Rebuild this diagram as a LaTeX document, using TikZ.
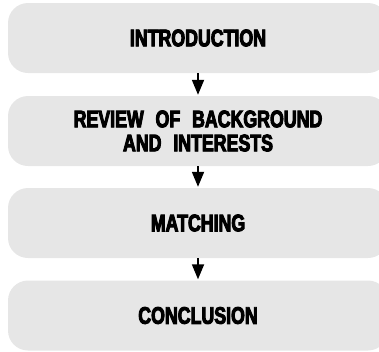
\documentclass[tikz,border=0pt]{standalone}
\usepackage{fontspec}
\usetikzlibrary{arrows.meta}
\newfontfamily\boxfont[FakeStretch=0.74,FakeBold=4,WordSpace=2.4]{Liberation Sans Bold}
\tikzset{
  stage/.style={fill=stagegray, draw=none, rounded corners=20pt,
    minimum width=380pt, minimum height=70pt, inner sep=0pt,
    align=center, font=\boxfont\fontsize{24pt}{24pt}\selectfont},
  flow/.style={line width=1.8pt, -{Triangle[width=12pt,length=15pt]},
    shorten >=1pt}
}
\definecolor{stagegray}{RGB}{230,230,230}
\begin{document}
\begin{tikzpicture}[x=1pt,y=1pt]
  \useasboundingbox (0,0) rectangle (379,-351);
  \clip (0,0) rectangle (379,-351);
  \node[stage] (intro)  at (198,-38)    {INTRODUCTION};
  \node[stage] (review) at (198,-131)   {REVIEW OF BACKGROUND\\AND INTERESTS};
  \node[stage] (match)  at (198,-223)   {MATCHING};
  \node[stage] (concl)  at (198,-315.5) {CONCLUSION};
  \draw[flow] (intro.south) -- (review.north);
  \draw[flow] (review.south) -- (match.north);
  \draw[flow] (match.south) -- (concl.north);
\end{tikzpicture}
\end{document}
